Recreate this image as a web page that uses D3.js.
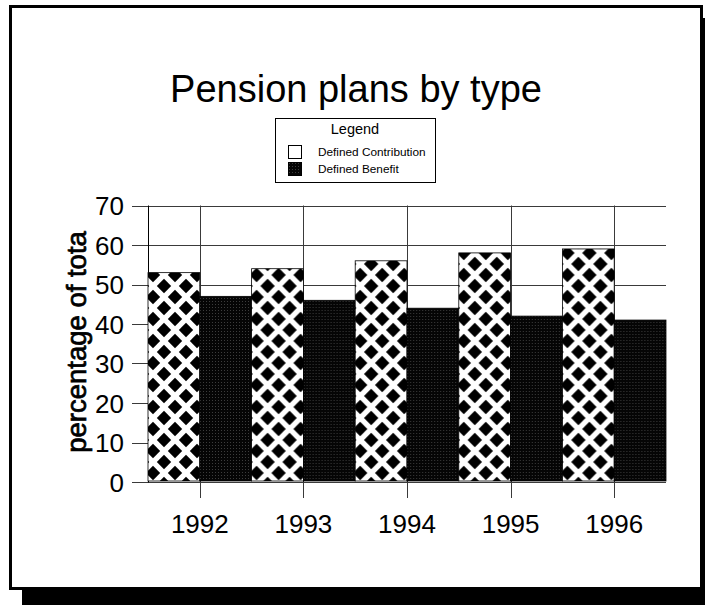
<!DOCTYPE html>
<html>
<head>
<meta charset="utf-8">
<script src="https://cdn.jsdelivr.net/npm/d3@7"></script>
<style>
  html, body { margin: 0; padding: 0; background: #fff; }
  svg { display: block; font-family: "Liberation Sans", Arial, sans-serif; }
</style>
</head>
<body>
<svg id="chart" width="705" height="605"></svg>
<script>
// Pension plan shares by year (percent of total)
const years = ["1992", "1993", "1994", "1995", "1996"];
const seriesNames = ["Defined Contribution", "Defined Benefit"];
const definedContribution = [53, 54, 56, 58, 59];
const definedBenefit = [47, 46, 44, 42, 41];
const yTicks = [0, 10, 20, 30, 40, 50, 60, 70];

const svg = d3.select("#chart");
const defs = svg.append("defs");

// Diamond lattice fill for Defined Contribution
const PW = 22, PH = 22;
const diamond = defs.append("pattern")
  .attr("id", "pat-dc")
  .attr("patternUnits", "userSpaceOnUse")
  .attr("x", 148).attr("y", 0)
  .attr("width", PW).attr("height", PH);
diamond.append("rect").attr("width", PW).attr("height", PH).attr("fill", "#fff");
const dpath = (cx, cy, rx, ry) => `M${cx - rx},${cy}L${cx},${cy - ry}L${cx + rx},${cy}L${cx},${cy + ry}Z`;
[[0, 0], [PW, 0], [0, PH], [PW, PH], [PW / 2, PH / 2]].forEach(([cx, cy]) => {
  diamond.append("path").attr("d", dpath(cx, cy, 7.2, 7.2)).attr("fill", "#000");
});

// Fine dark stipple fill for Defined Benefit
const stipple = defs.append("pattern")
  .attr("id", "pat-db")
  .attr("patternUnits", "userSpaceOnUse")
  .attr("width", 3).attr("height", 3);
stipple.append("rect").attr("width", 3).attr("height", 3).attr("fill", "#050505");
stipple.append("rect").attr("x", 1).attr("y", 1).attr("width", 1).attr("height", 1).attr("fill", "#3c3c3c");

const fills = ["url(#pat-dc)", "url(#pat-db)"];

// Drop shadow and framed page
svg.append("rect").attr("x", 22).attr("y", 18).attr("width", 700).attr("height", 600).attr("fill", "#000");
svg.append("rect").attr("x", 10.5).attr("y", 6.5).attr("width", 691).attr("height", 582)
  .attr("fill", "#fff").attr("stroke", "#000").attr("stroke-width", 3);

// Scales
const x = d3.scaleBand().domain(years).range([148, 666]).padding(0);
const xs = d3.scaleBand().domain(seriesNames).range([0, x.bandwidth()]).padding(0);
const y = d3.scaleLinear().domain([0, 70]).range([482, 205.5]);

// Horizontal gridlines with left tick stubs
svg.append("g").selectAll("line").data(yTicks).join("line")
  .attr("x1", 132).attr("x2", 666)
  .attr("y1", d => Math.round(y(d)) + 0.5).attr("y2", d => Math.round(y(d)) + 0.5)
  .attr("stroke", "#3a3a3a").attr("stroke-width", 1);

// Vertical gridlines at category centres, extending below the baseline
svg.append("g").selectAll("line").data(years).join("line")
  .attr("x1", d => Math.round(x(d) + x.bandwidth() / 2) + 0.5)
  .attr("x2", d => Math.round(x(d) + x.bandwidth() / 2) + 0.5)
  .attr("y1", y(70)).attr("y2", 498)
  .attr("stroke", "#3a3a3a").attr("stroke-width", 1);

// Left axis line
svg.append("line").attr("x1", 148.5).attr("x2", 148.5).attr("y1", y(70)).attr("y2", y(0) + 0.5)
  .attr("stroke", "#000").attr("stroke-width", 1);

// Bars
const rows = years.map((yr, i) => ({ year: yr, values: [definedContribution[i], definedBenefit[i]] }));
const groups = svg.append("g").selectAll("g").data(rows).join("g")
  .attr("transform", d => `translate(${x(d.year)},0)`);
groups.selectAll("rect").data(d => d.values.map((v, j) => ({ v, j }))).join("rect")
  .attr("x", d => xs(seriesNames[d.j]))
  .attr("width", xs.bandwidth())
  .attr("y", d => y(d.v))
  .attr("height", d => y(0) - 1 - y(d.v))
  .attr("fill", d => fills[d.j])
  .attr("stroke", "#000").attr("stroke-width", 0.8);

// Y tick labels
svg.append("g").selectAll("text").data(yTicks).join("text")
  .attr("x", 124).attr("y", d => y(d) + 9.5)
  .attr("text-anchor", "end")
  .attr("font-size", 26)
  .attr("fill", "#000")
  .text(d => d);

// X tick labels
svg.append("g").selectAll("text").data(years).join("text")
  .attr("x", d => x(d) + x.bandwidth() / 2)
  .attr("y", 533)
  .attr("text-anchor", "middle")
  .attr("font-size", 26)
  .attr("fill", "#000")
  .text(d => d);

// Y axis title (slightly heavier stroke)
svg.append("text")
  .attr("transform", "translate(86,342) rotate(-90)")
  .attr("text-anchor", "middle")
  .attr("font-size", 27.5)
  .attr("fill", "#000")
  .attr("stroke", "#000")
  .attr("stroke-width", 0.7)
  .text("percentage of tota");

// Title
svg.append("text")
  .attr("x", 356).attr("y", 102)
  .attr("text-anchor", "middle")
  .attr("font-size", 38)
  .attr("fill", "#000")
  .text("Pension plans by type");

// Legend
const lg = svg.append("g");
lg.append("rect").attr("x", 275.5).attr("y", 118.5).attr("width", 160).attr("height", 64)
  .attr("fill", "#fff").attr("stroke", "#000").attr("stroke-width", 1);
lg.append("text").attr("x", 355).attr("y", 134).attr("text-anchor", "middle")
  .attr("font-size", 14.5).attr("fill", "#000").text("Legend");
seriesNames.forEach((name, i) => {
  const top = 145 + i * 17;
  lg.append("rect").attr("x", 288.5).attr("y", top + 0.5).attr("width", 13).attr("height", 13)
    .attr("fill", i === 0 ? "#fff" : fills[1]).attr("stroke", "#000").attr("stroke-width", 1);
  lg.append("text").attr("x", 318).attr("y", top + 11)
    .attr("font-size", 11.8).attr("fill", "#000").text(name);
});
</script>
</body>
</html>
